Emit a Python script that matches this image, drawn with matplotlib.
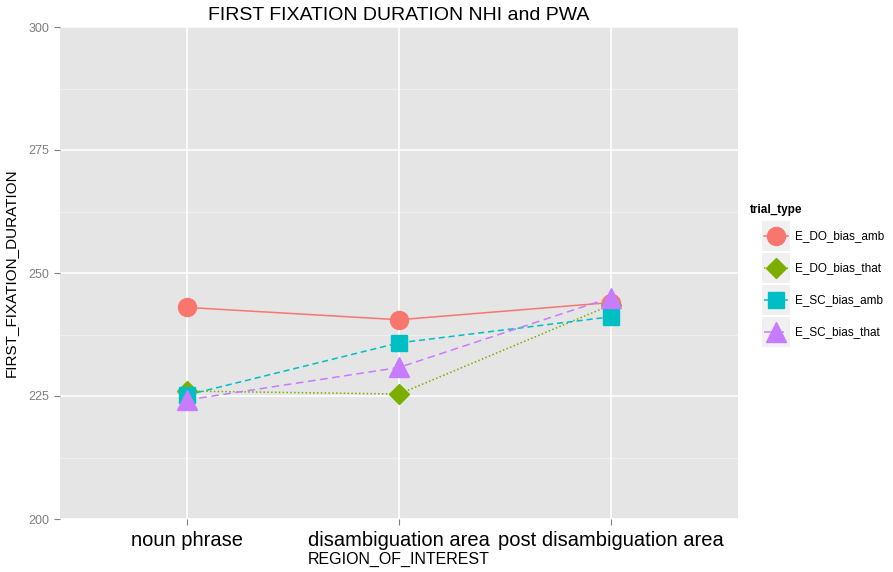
import matplotlib.pyplot as plt
from matplotlib.patches import Rectangle

plt.rcParams["font.family"] = ["Liberation Sans", "DejaVu Sans"]

regions = ["noun phrase", "disambiguation area", "post disambiguation area"]
trial_types = ["E_DO_bias_amb", "E_DO_bias_that", "E_SC_bias_amb", "E_SC_bias_that"]
do_amb = [243.0, 240.5, 244.0]
do_that = [226.0, 225.4, 243.5]
sc_amb = [225.2, 235.8, 241.1]
sc_that = [224.2, 230.8, 245.0]
y_ticks = [200, 225, 250, 275, 300]

series = [do_amb, do_that, sc_amb, sc_that]
colors = ["#F8766D", "#7CAE00", "#00BFC4", "#C77CFF"]
markers = ["o", "D", "s", "^"]
msizes = [13, 10, 12, 15]
dashes = [None, (1, 1.5), (4, 2.5), (5, 3)]

W, H = 893, 572
fig = plt.figure(figsize=(W / 100, H / 100), dpi=100)
ax = fig.add_axes([60 / W, 1 - 519 / H, 678 / W, 492 / H])
ax.set_facecolor("#E5E5E5")
for s in ax.spines.values():
    s.set_visible(False)

x = list(range(len(regions)))
ax.set_xlim(-0.6, len(regions) - 1 + 0.6)
ax.set_ylim(200, 300)

# grid: major + minor white lines
for v in [212.5, 237.5, 262.5, 287.5]:
    ax.axhline(v, color="#F2F2F2", lw=0.6, zorder=0)
for v in y_ticks:
    ax.axhline(v, color="white", lw=1.2, zorder=0)
for xi in x:
    ax.axvline(xi, color="white", lw=1.2, zorder=0)

for vals, c, m, ms, d in zip(series, colors, markers, msizes, dashes):
    ls = "-" if d is None else (0, d)
    ax.plot(x, vals, color=c, lw=1.1, linestyle=ls, zorder=2)
    ax.plot(x, vals, color=c, marker=m, markersize=ms, linestyle="none", zorder=3)

ax.set_xticks(x)
ax.set_xticklabels(regions, fontsize=14.5, color="black")
ax.set_yticks(y_ticks)
ax.set_yticklabels([str(v) for v in y_ticks], fontsize=9, color="#7F7F7F")
ax.tick_params(axis="both", color="#7F7F7F", length=4, width=0.8)
ax.tick_params(axis="x", pad=5)
ax.set_xlabel("REGION_OF_INTEREST", fontsize=11.5, labelpad=1)
ax.set_ylabel("FIRST_FIXATION_DURATION", fontsize=11, labelpad=8)
ax.set_title("FIRST FIXATION DURATION NHI and PWA", fontsize=14, pad=5)

# legend drawn in its own pixel-scaled axes
lg = fig.add_axes([0, 0, 1, 1], zorder=5)
lg.set_xlim(0, W)
lg.set_ylim(H, 0)
lg.axis("off")
lg.text(750, 210, "trial_type", fontsize=8.5, fontweight="bold", va="center", ha="left")
key_y = [236, 268, 300, 332]
for ky, c, m, ms, d, name in zip(key_y, colors, markers, msizes, dashes, trial_types):
    ls = "-" if d is None else (0, d)
    lg.add_patch(Rectangle((762, ky - 15), 28, 30, facecolor="#F0F0F0", edgecolor="none"))
    lg.plot([764, 788], [ky, ky], color=c, lw=1.1, linestyle=ls)
    lg.plot([776], [ky], color=c, marker=m, markersize=ms, linestyle="none")
    lg.text(795, ky, name, fontsize=8.5, va="center", ha="left")

fig.savefig("out.png", dpi=100)
